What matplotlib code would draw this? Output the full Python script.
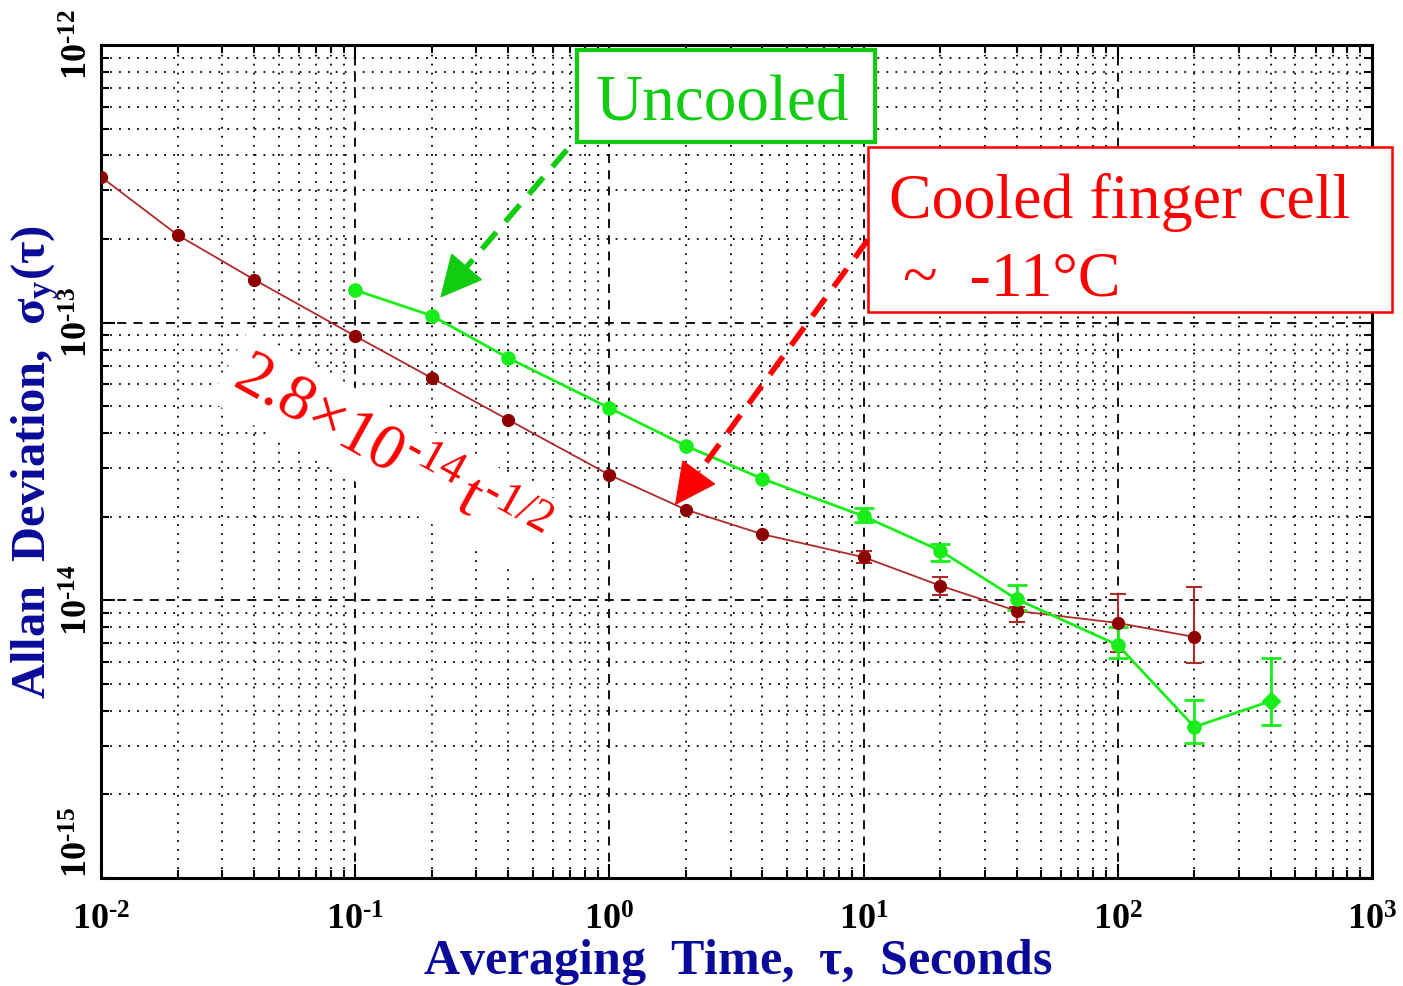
import matplotlib
matplotlib.use('Agg')
import matplotlib.pyplot as plt
import matplotlib.ticker as mticker
from matplotlib.patches import Rectangle
import numpy as np

plt.rcParams['font.family'] = ['Liberation Serif', 'DejaVu Serif']
plt.rcParams['mathtext.fontset'] = 'custom'
plt.rcParams['mathtext.rm'] = 'Liberation Serif'
plt.rcParams['mathtext.it'] = 'Liberation Serif:italic'
plt.rcParams['mathtext.bf'] = 'Liberation Serif:bold'

# Allan deviation, cooled finger cell
tau_cooled = [0.01, 0.02, 0.04, 0.1, 0.2, 0.4, 1, 2, 4, 10, 20, 40, 100, 200]
adev_cooled = [3.35e-13, 2.07e-13, 1.43e-13, 8.95e-14, 6.32e-14, 4.47e-14, 2.83e-14,
               2.12e-14, 1.73e-14, 1.43e-14, 1.13e-14, 9.16e-15, 8.29e-15, 7.38e-15]
# error bar bounds (only the long averaging times have visible bars)
tau_cooled_err = [10, 20, 40, 100, 200]
lo_cooled = [1.36e-14, 1.045e-14, 8.36e-15, 6.52e-15, 5.95e-15]
hi_cooled = [1.51e-14, 1.21e-14, 9.46e-15, 1.054e-14, 1.117e-14]

# Allan deviation, uncooled cell
tau_uncooled = [0.1, 0.2, 0.4, 1, 2, 4, 10, 20, 40, 100, 200, 400]
adev_uncooled = [1.31e-13, 1.06e-13, 7.46e-14, 4.93e-14, 3.60e-14, 2.74e-14,
                 2.01e-14, 1.51e-14, 1.01e-14, 6.9e-15, 3.5e-15, 4.34e-15]
tau_uncooled_err = [10, 20, 40, 100, 200, 400]
lo_uncooled = [1.91e-14, 1.39e-14, 9.23e-15, 6.2e-15, 3.06e-15, 3.56e-15]
hi_uncooled = [2.15e-14, 1.60e-14, 1.136e-14, 8.02e-15, 4.38e-15, 6.2e-15]

x_decades = [1e-2, 1e-1, 1e0, 1e1, 1e2, 1e3]
y_decades = [1e-15, 1e-14, 1e-13, 1e-12]

RED_LINE = '#b02a2a'
RED_MARK = '#8e0000'
GREEN = '#1aee1a'
BOX_GREEN = '#11cc11'
NAVY = '#0a0a9a'
HY = '\u2010'  # short hyphen used as minus sign in exponents

W, H = 1403, 986
fig = plt.figure(figsize=(W / 100, H / 100), dpi=100)


def fx(px):
    return px / W


def fy(py):
    return 1 - py / H


ax = fig.add_axes([fx(101), fy(878), fx(1372) - fx(101), fy(45) - fy(878)])
ax.set_xscale('log')
ax.set_yscale('log')
ax.set_xlim(1e-2, 1e3)
ax.set_ylim(1e-15, 1e-12)

ax.grid(which='major', color='k', linestyle=(0, (5, 4)), linewidth=1.3)
ax.grid(which='minor', color='k', linestyle=(0, (1, 4)), linewidth=1.3)
ax.set_axisbelow(True)


def errbounds(tau_all, vals, tau_err, lo, hi):
    c = np.array([vals[tau_all.index(t)] for t in tau_err])
    return c, [c - np.array(lo), np.array(hi) - c]


# cooled
ax.plot(tau_cooled, adev_cooled, '-', color=RED_LINE, lw=1.3, zorder=3)
c, yerr = errbounds(tau_cooled, adev_cooled, tau_cooled_err, lo_cooled, hi_cooled)
ax.errorbar(tau_cooled_err, c, yerr=yerr, fmt='none', ecolor=RED_LINE, elinewidth=1.5,
            capsize=6, capthick=1.5, zorder=3)
ax.plot(tau_cooled, adev_cooled, 'o', color=RED_MARK, ms=8.5, zorder=4)

# uncooled
ax.plot(tau_uncooled, adev_uncooled, '-', color=GREEN, lw=2, zorder=3)
c, yerr = errbounds(tau_uncooled, adev_uncooled, tau_uncooled_err, lo_uncooled, hi_uncooled)
ax.errorbar(tau_uncooled_err, c, yerr=yerr, fmt='none', ecolor=GREEN, elinewidth=2,
            capsize=7, capthick=2, zorder=3)
ax.plot(tau_uncooled[:-1], adev_uncooled[:-1], 'o', color=GREEN, ms=9.5, zorder=4)
ax.plot(tau_uncooled[-1:], adev_uncooled[-1:], 'D', color=GREEN, ms=9, zorder=4)

# ticks: decades labelled
fmt = mticker.FuncFormatter(
    lambda v, p: r'$\mathbf{10^{%s}}$' % str(round(np.log10(v))).replace('-', HY))
ax.set_xticks(x_decades)
ax.set_yticks(y_decades)
ax.xaxis.set_major_formatter(fmt)
ax.yaxis.set_major_formatter(fmt)
ax.xaxis.set_minor_formatter(mticker.NullFormatter())
ax.yaxis.set_minor_formatter(mticker.NullFormatter())
ax.xaxis.set_minor_locator(mticker.LogLocator(subs=np.arange(2, 10)))
ax.yaxis.set_minor_locator(mticker.LogLocator(subs=np.arange(2, 10)))
ax.tick_params(which='both', direction='in', top=True, right=True, width=1.5)
ax.tick_params(which='major', length=10)
ax.tick_params(which='minor', length=6)
ax.tick_params(axis='x', labelsize=26, pad=19)
ax.tick_params(axis='y', labelsize=26, pad=4, labelrotation=90)
ytl = ax.get_yticklabels()
for lab in ytl:
    lab.set_verticalalignment('center')
ytl[0].set_verticalalignment('bottom')
for s in ax.spines.values():
    s.set_linewidth(2.2)

fig.text(fx(738), fy(962), r'Averaging  Time,  $\mathbf{\tau}$,  Seconds', color=NAVY,
         fontsize=36, fontweight='bold', ha='center', va='center')
fig.text(fx(35), fy(462), r'Allan  Deviation,  $\mathbf{\sigma_y(\tau)}$', color=NAVY,
         fontsize=35, fontweight='bold', ha='center', va='center', rotation=90)

# label boxes
fig.patches.append(Rectangle((fx(577), fy(142)), fx(875) - fx(577), fy(50) - fy(142),
                             transform=fig.transFigure, facecolor='white',
                             edgecolor=BOX_GREEN, lw=3, zorder=5))
fig.text(fx(722), fy(104), 'Uncooled', color=BOX_GREEN, fontsize=47,
         ha='center', va='center', zorder=6)
fig.patches.append(Rectangle((fx(868), fy(312)), fx(1392) - fx(868), fy(147) - fy(312),
                             transform=fig.transFigure, facecolor='white',
                             edgecolor='red', lw=1.8, zorder=5))
fig.text(fx(889), fy(218), 'Cooled finger cell', color='red', fontsize=46,
         ha='left', va='baseline', zorder=6)
fig.text(fx(903), fy(295), '~  -11°C', color='red', fontsize=46,
         ha='left', va='baseline', zorder=6)


# dashed arrows pointing at the curves: dashed shaft plus a solid head
def dashed_arrow(start, tip, color, head_frac):
    ls, lt = np.log10(start), np.log10(tip)
    base = 10 ** (ls + (1 - head_frac) * (lt - ls))
    ax.plot([start[0], base[0]], [start[1], base[1]], color=color, lw=4,
            linestyle=(0, (4, 2.5)), solid_capstyle='butt', zorder=6)
    ax.annotate('', xy=tip, xytext=base,
                arrowprops=dict(arrowstyle='-|>,head_length=1.0,head_width=0.5',
                                color=color, lw=1, mutation_scale=28,
                                shrinkA=0, shrinkB=0), zorder=6)


dashed_arrow(np.array([0.68, 4.19e-13]), np.array([0.216, 1.23e-13]), BOX_GREEN, 0.2)
dashed_arrow(np.array([10.4, 1.99e-13]), np.array([1.81, 2.2e-14]), 'red', 0.13)

# t^-1/2 slope label
fig.text(fx(231), fy(384), r'$\mathrm{2.8{\times}10^{%s14}\,t^{%s1/2}}$' % (HY, HY),
         color='red', fontsize=47, rotation=-29, rotation_mode='anchor',
         ha='left', va='baseline',
         bbox=dict(facecolor='white', edgecolor='none', pad=8), zorder=6)

fig.savefig('out.png', dpi=100)
